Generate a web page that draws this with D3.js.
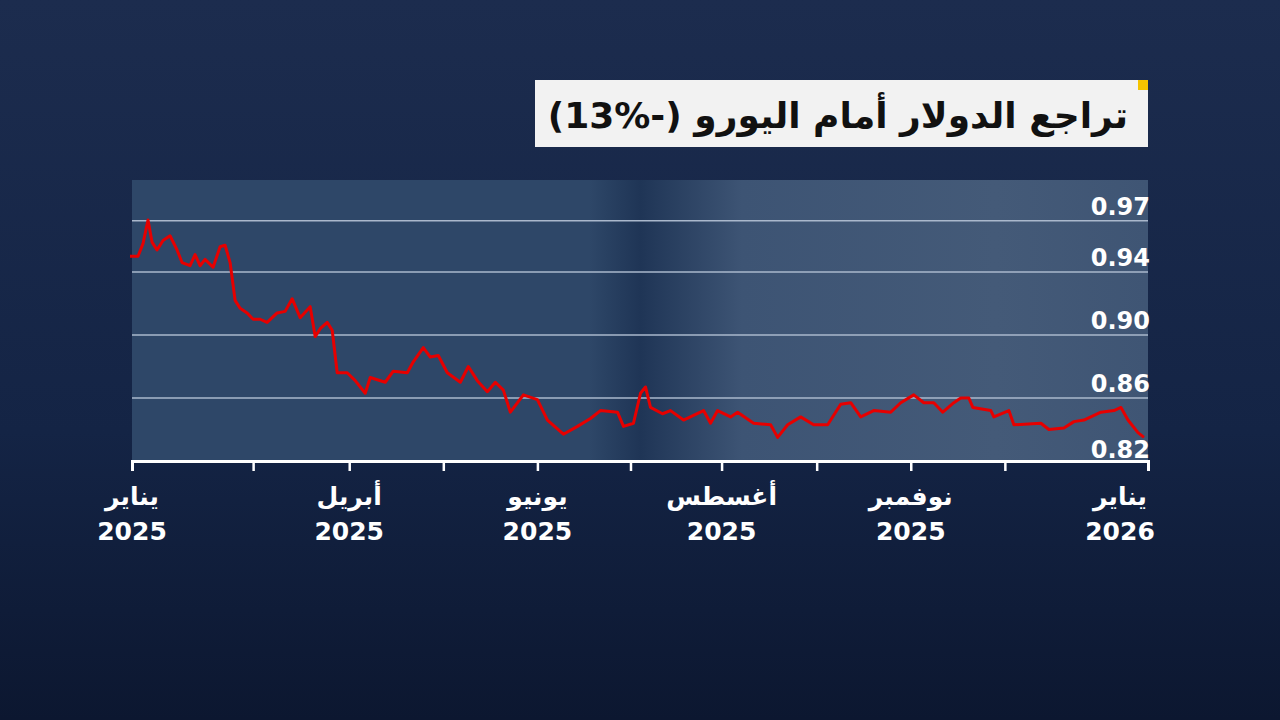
<!DOCTYPE html><html><head><meta charset="utf-8"><script src="https://cdn.jsdelivr.net/npm/d3@7"></script>
<style>body{margin:0;background:#0f1d38;overflow:hidden}text{font-family:"DejaVu Sans",sans-serif}</style></head><body><svg id="c" width="1280" height="720"></svg>
<script>
const title="تراجع الدولار أمام اليورو \u2066(13%-)\u2069";
const t=[0,2,3.25,4.5,5.5,6.75,8.25,10,11.75,13,15,16.25,17.5,18.75,20.75,22.5,23.75,25,26.25,27.5,29.25,30.75,32.5,34.25,36.75,38.75,40.5,42.5,45,46.25,47.5,49.25,50.5,51.75,54.25,56.25,58.75,60,63.75,65.75,69.25,70.75,73.25,75,77,79.25,82.5,84.5,86.75,89.25,91.25,93.25,95,98.25,101.75,104.25,108.25,111.75,115,117.5,121.75,123.25,125.75,127.5,128.75,130,133,135,138.25,143.25,145,146.75,150,151.75,155.75,160,161.75,164.25,167.5,170.75,174.25,177.5,180,182.5,185.75,190,192.5,195.75,198.25,200.75,203,205.75,207.5,209.5,210.5,215,215.75,219.5,220.75,227.5,229.5,233.25,235.75,238.25,242.5,245.75,247.5,249.25,251.75,253.25];
const rate=[0.950,0.950,0.958,0.973,0.959,0.954,0.960,0.963,0.954,0.946,0.944,0.951,0.944,0.948,0.943,0.956,0.957,0.946,0.922,0.917,0.914,0.910,0.910,0.908,0.914,0.915,0.923,0.911,0.918,0.899,0.904,0.908,0.903,0.876,0.876,0.871,0.863,0.873,0.870,0.877,0.876,0.883,0.892,0.886,0.887,0.876,0.870,0.880,0.871,0.864,0.870,0.865,0.851,0.862,0.859,0.846,0.837,0.842,0.847,0.852,0.851,0.842,0.844,0.863,0.867,0.854,0.850,0.852,0.846,0.852,0.844,0.852,0.848,0.851,0.844,0.843,0.835,0.843,0.848,0.843,0.843,0.856,0.857,0.848,0.852,0.851,0.857,0.862,0.857,0.857,0.851,0.857,0.860,0.860,0.854,0.852,0.848,0.852,0.843,0.844,0.840,0.841,0.845,0.846,0.851,0.852,0.854,0.846,0.838,0.835];
const tickPos=[0.5,30.75,54.75,78.25,101.75,125,147.75,171.5,195,218.5,254.25];
const tickMonth=["يناير","","أبريل","","يونيو","","أغسطس","","نوفمبر","","يناير"];
const tickYear=["2025","","2025","","2025","","2025","","2025","","2026"];
const yTicks=[0.97,0.94,0.90,0.86,0.82];
const yGrid=[0.94,0.90,0.86];

const svg=d3.select("#c");
const defs=svg.append("defs");
const bg=defs.append("linearGradient").attr("id","bg").attr("x1",0).attr("x2",0).attr("y1",0).attr("y2",1);
bg.append("stop").attr("offset",0).attr("stop-color","#1c2c4e");bg.append("stop").attr("offset",0.6).attr("stop-color","#142445");bg.append("stop").attr("offset",1).attr("stop-color","#0c1730");
svg.append("rect").attr("width",1280).attr("height",720).attr("fill","url(#bg)");
const pg=defs.append("linearGradient").attr("id","pg");
[[0,"#2e4768"],[0.45,"#2e4768"],[0.5,"#1f3556"],[0.6,"#3d5474"],[0.85,"#445a78"],[1,"#3f5574"]].forEach(s=>pg.append("stop").attr("offset",s[0]).attr("stop-color",s[1]));

const L=132,R=1148,T=180,B=461;
const x=d3.scaleLinear().domain([0.5,254.25]).range([L,R]);
const y=d3.scaleLinear().domain([0.82,0.90]).range([B,335]);
svg.append("rect").attr("x",L).attr("y",T).attr("width",R-L).attr("height",B-T).attr("fill","url(#pg)");
svg.append("line").attr("x1",L).attr("x2",R).attr("y1",y(0.97)-4).attr("y2",y(0.97)-4).attr("stroke","#aab8cc").attr("stroke-width",1.5);
svg.selectAll(".g").data(yGrid).join("line").attr("x1",L).attr("x2",R).attr("y1",d=>y(d)).attr("y2",d=>y(d)).attr("stroke","#aab8cc").attr("stroke-width",1.5);
svg.selectAll(".yl").data(yTicks).join("text").attr("x",1150).attr("y",d=>d===0.97?y(d)-4:y(d)).attr("dy",d=>d===0.82?-3:-6)
 .attr("text-anchor","end").attr("fill","#fff").attr("font-weight","bold").attr("font-size",24).text(d=>d.toFixed(2));
svg.append("path").datum(t.map((d,i)=>[d,rate[i]])).attr("fill","none").attr("stroke","#e60000").attr("stroke-width",3).attr("stroke-linejoin","round")
 .attr("d",d3.line().x(d=>x(d[0])).y(d=>y(d[1])));
const ax=svg.append("g").attr("transform",`translate(0,${B})`).call(d3.axisBottom(x).tickValues(tickPos).tickSize(10).tickFormat(""));
ax.select(".domain").attr("stroke","#fff").attr("stroke-width",3);
ax.selectAll("line").attr("stroke","#fff").attr("stroke-width",2.5);
const lab=svg.selectAll(".xl").data(tickPos.map((p,i)=>[p,tickMonth[i],tickYear[i]]).filter(d=>d[1])).join("g")
 .attr("transform",d=>`translate(${Math.min(x(d[0]),1120)},0)`);
lab.append("text").attr("y",505).attr("text-anchor","middle").attr("fill","#fff").attr("font-weight","bold").attr("font-size",25).text(d=>d[1]);
lab.append("text").attr("y",540).attr("text-anchor","middle").attr("fill","#fff").attr("font-weight","bold").attr("font-size",25).text(d=>d[2]);
svg.append("rect").attr("x",535).attr("y",80).attr("width",613).attr("height",67).attr("fill","#f2f2f2");
svg.append("rect").attr("x",1138).attr("y",80).attr("width",10).attr("height",10).attr("fill","#f5c400");
svg.append("text").attr("x",1128).attr("y",128).attr("text-anchor","start").attr("direction","rtl").attr("font-size",36).attr("font-weight","bold").attr("fill","#111").text(title);
</script></body></html>
